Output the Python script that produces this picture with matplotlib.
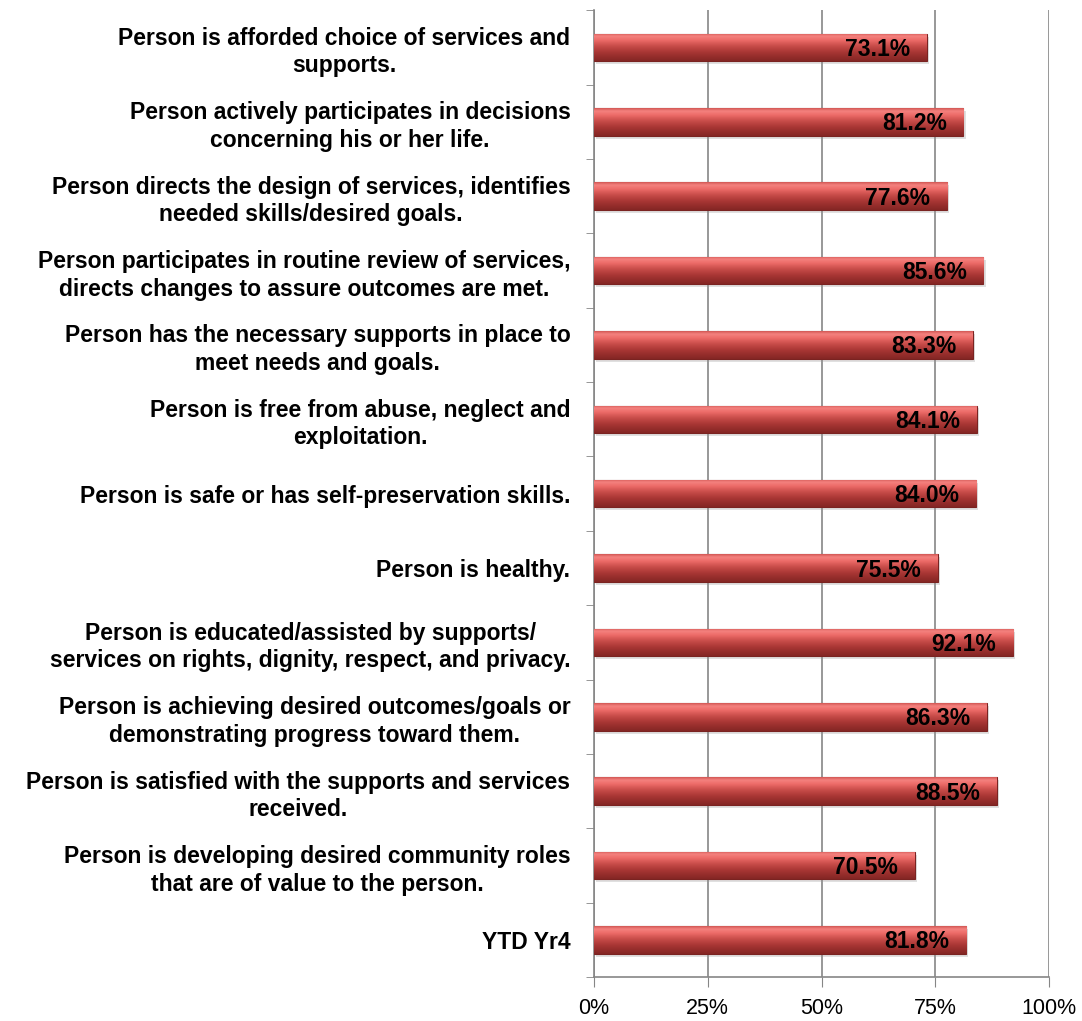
import matplotlib
matplotlib.use("Agg")
import matplotlib.pyplot as plt
import numpy as np
from matplotlib.colors import LinearSegmentedColormap

labels = [
    "Person is afforded choice of services and\nsupports.",
    "Person actively participates in decisions\nconcerning his or her life.",
    "Person directs the design of services, identifies\nneeded skills/desired goals.",
    "Person participates in routine review of services,\ndirects changes to assure outcomes are met.",
    "Person has the necessary supports in place to\nmeet needs and goals.",
    "Person is free from abuse, neglect and\nexploitation.",
    "Person is safe or has self-preservation skills.",
    "Person is healthy.",
    "Person is educated/assisted by supports/\nservices on rights, dignity, respect, and privacy.",
    "Person is achieving desired outcomes/goals or\ndemonstrating progress toward them.",
    "Person is satisfied with the supports and services\nreceived.",
    "Person is developing desired community roles\nthat are of value to the person.",
    "YTD Yr4",
]
values = [73.1, 81.2, 77.6, 85.6, 83.3, 84.1, 84.0, 75.5, 92.1, 86.3, 88.5, 70.5, 81.8]
xticks = [0, 25, 50, 75, 100]

label_font = ["Liberation Sans", "DejaVu Sans"]
value_font = ["Liberation Sans", "DejaVu Sans"]

fig = plt.figure(figsize=(10.82, 10.21), dpi=100)
ax = fig.add_axes([0.549, 0.043, 0.4205, 0.947])

n = len(values)
y = np.arange(n)[::-1]
h = 0.37

# vertical gradient to mimic the bevelled bars (0 = bottom edge)
cmap = LinearSegmentedColormap.from_list(
    "bev", [(0.0, "#842624"), (0.3, "#a63533"), (0.55, "#c94d4a"),
            (0.75, "#ec6b68"), (0.9, "#f4817e"), (1.0, "#d35956")])
grad = np.linspace(0, 1, 64).reshape(-1, 1)

for yi, v in zip(y, values):
    ax.barh(yi - 0.04, v, height=h, color="#999999", alpha=0.3, zorder=2,
            left=0.5)
    bar = ax.barh(yi, v, height=h, color="#c0504d", edgecolor="#7a2321",
                  linewidth=0.8, zorder=3)[0]
    im = ax.imshow(grad, cmap=cmap, aspect="auto", origin="lower",
                   extent=(0, v, yi - h / 2, yi + h / 2), zorder=3)
    im.set_clip_path(bar)
    ax.annotate(f"{v:.1f}%", xy=(v, yi), xytext=(-12, -1.5),
                textcoords="offset points", ha="right", va="center",
                fontsize=16.5, fontweight="bold", family=value_font,
                color="black", zorder=5)

ax.set_xlim(0, 100)
ax.set_ylim(-0.5, n - 0.5)
ax.set_xticks(xticks)
ax.set_xticklabels([f"{t}%" for t in xticks], fontsize=15.5, family=label_font)
ax.set_yticks(y)
ax.set_yticklabels(labels, fontsize=16.5, fontweight="bold", family=label_font,
                   ha="right", multialignment="center", linespacing=1.25)
ax.tick_params(axis="y", length=0, pad=17)
ax.set_yticks(np.arange(-0.5, n, 1), minor=True)
ax.tick_params(axis="y", which="minor", length=6, color="#868686")
ax.tick_params(axis="x", length=7, color="#868686", pad=8)

ax.grid(axis="x", color="#868686", linewidth=1.2, zorder=0)
ax.set_axisbelow(True)
for s in ["top", "right"]:
    ax.spines[s].set_visible(False)
for s in ["left", "bottom"]:
    ax.spines[s].set_color("#868686")
    ax.spines[s].set_linewidth(1.2)

fig.savefig("out.png", dpi=100)
